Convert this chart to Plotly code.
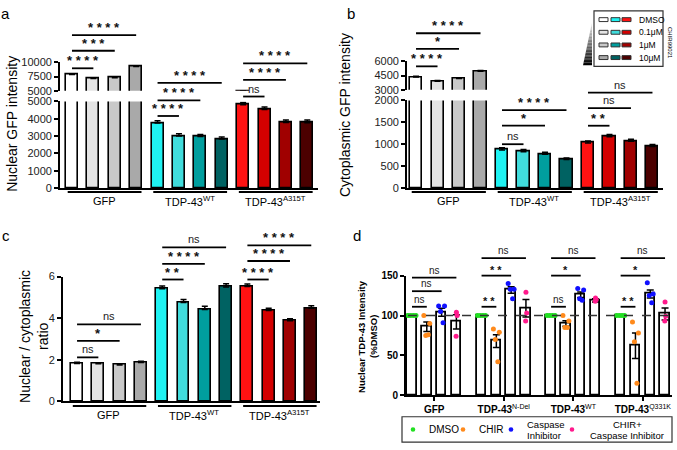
import plotly.graph_objects as go

W, H = 677, 450
FONT = "Liberation Sans, Arial, sans-serif"

# ---------------- data ----------------
groups_abc = ["GFP", "TDP-43<sup>WT</sup>", "TDP-43<sup>A315T</sup>"]
conc_labels = ["DMSO", "0.1μM", "1μM", "10μM"]
colors_gfp = ["#ffffff", "#e4e4e4", "#c9c9c9", "#a9a9a9"]
colors_wt = ["#1ff2f2", "#40dcdc", "#009e9e", "#006262"]
colors_a315t = ["#ff1212", "#d40000", "#a00000", "#4c0000"]

nuc_vals = [7850, 7150, 7300, 9300, 3750, 3000, 2980, 2830, 4800, 4530, 3780, 3770]
nuc_err = [120, 110, 110, 120, 130, 130, 110, 120, 130, 140, 140, 150]
cyto_vals = [4350, 3900, 4200, 4950, 870, 830, 770, 650, 1030, 1170, 1070, 950]
cyto_err = [70, 70, 70, 80, 50, 50, 45, 35, 45, 50, 45, 45]
ratio_vals = [1.82, 1.80, 1.74, 1.86, 5.42, 4.75, 4.42, 5.50, 5.52, 4.37, 3.87, 4.47]
ratio_err = [0.05, 0.05, 0.04, 0.06, 0.13, 0.15, 0.15, 0.15, 0.12, 0.10, 0.10, 0.13]

# significance: (first bar, second bar, label)
sig_a = [(0, 3, "****"), (0, 2, "***"), (0, 1, "****"),
         (4, 7, "****"), (4, 6, "****"), (4, 5, "****"),
         (8, 11, "****"), (8, 10, "****"), (8, 9, "ns")]
sig_b = [(0, 3, "****"), (0, 2, "*"), (0, 1, "****"),
         (4, 7, "****"), (4, 6, "*"), (4, 5, "ns"),
         (8, 11, "ns"), (8, 10, "ns"), (8, 9, "**")]
sig_c = [(0, 3, "ns"), (0, 2, "*"), (0, 1, "ns"),
         (4, 7, "ns"), (4, 6, "****"), (4, 5, "**"),
         (8, 11, "****"), (8, 10, "****"), (8, 9, "****")]

groups_d = ["GFP", "TDP-43<sup>N-Del</sup>", "TDP-43<sup>WT</sup>", "TDP-43<sup>Q331K</sup>"]
treatments_d = ["DMSO", "CHIR", "Caspase|Inhibitor", "CHIR+|Caspase Inhibitor"]
colors_d = ["#22e022", "#ff8a1c", "#1010ff", "#ff1a8c"]
d_means = [[100, 86, 104, 92], [100, 68, 132, 109], [100, 90, 126, 119], [100, 62, 127, 102]]
d_sem = [[0, 6, 5, 9], [0, 8, 4, 11], [0, 3.5, 3.5, 2], [0, 16, 5, 7.5]]
d_points = [
    [[100, 100, 100, 100], [100, 90, 75, 76], [112, 112, 105, 91], [104, 100, 74]],
    [[100, 100, 100, 100], [83, 79, 70, 42], [140, 133, 133, 121], [129, 103, 93]],
    [[100, 100, 100, 100], [100, 93, 85, 85], [134, 132, 121, 119], [122, 120, 118]],
    [[100, 100, 100, 100], [92, 78, 67, 15], [141, 127, 125, 116], [117, 99, 93]],
]
sig_d = ["ns", "ns", "ns",
         "ns", "**", "**",
         "ns", "*", "ns",
         "ns", "*", "**"]

# ---------------- layout geometry (pixels) ----------------
def px(x):
    return x / W

def py(y):
    return 1 - y / H

PAN = {
    "a": dict(xdom=(60, 318), xr=(-0.56, 11.5)),
    "b": dict(xdom=(407, 663), xr=(-0.42, 11.49)),
    "c": dict(xdom=(63, 320), xr=(-0.66, 11.41)),
    "d": dict(xdom=(406, 672), xr=(-0.405, 17.57)),
}

def xpaper(p, v):
    d = PAN[p]
    p0, p1 = d["xdom"]
    r0, r1 = d["xr"]
    return px(p0 + (v - r0) / (r1 - r0) * (p1 - p0))

fig = go.Figure()
shapes = []
annots = []

axis_common = dict(showline=True, linecolor="black", linewidth=1.8, ticks="outside",
                   ticklen=4, tickwidth=1.5, tickcolor="black", showgrid=False,
                   zeroline=False, tickformat="d",
                   tickfont=dict(family=FONT, size=11, color="#222"))

cols12 = colors_gfp + colors_wt + colors_a315t
idx = list(range(12))

def bar12(vals, err, xa, ya):
    fig.add_trace(go.Bar(
        x=idx, y=vals, width=0.56, xaxis=xa, yaxis=ya, showlegend=False,
        marker=dict(color=cols12, line=dict(color="black", width=1.6)),
        error_y=dict(type="data", array=err, arrayminus=[0] * 12, symmetric=False,
                     color="black", thickness=1.5, width=3)))

# panel a (broken axis)
bar12(nuc_vals, nuc_err, "x", "y")
bar12(nuc_vals, nuc_err, "x2", "y2")
# panel b
bar12(cyto_vals, cyto_err, "x3", "y3")
bar12(cyto_vals, cyto_err, "x4", "y4")
# panel c
bar12(ratio_vals, ratio_err, "x5", "y5")

layout_axes = {}
def xax(p, anchor, visible=True, **kw):
    d = PAN[p]
    ax = dict(domain=[px(d["xdom"][0]), px(d["xdom"][1])], range=list(d["xr"]),
              anchor=anchor, showline=visible, linecolor="black", linewidth=1.8,
              showticklabels=False, ticks="", showgrid=False, zeroline=False)
    ax.update(kw)
    return ax

def yax(anchor, top, bottom, rng, tickvals, **kw):
    ax = dict(axis_common)
    ax.update(domain=[py(bottom), py(top)], range=rng, anchor=anchor, tickvals=tickvals)
    ax.update(kw)
    return ax

layout_axes["xaxis"] = xax("a", "y")
layout_axes["yaxis"] = yax("x", 98, 187, [0, 5000], [0, 1000, 2000, 3000, 4000, 5000])
layout_axes["xaxis2"] = xax("a", "y2", visible=False)
layout_axes["yaxis2"] = yax("x2", 58, 87, [5000, 10000], [5000, 7500, 10000])
layout_axes["xaxis3"] = xax("b", "y3")
layout_axes["yaxis3"] = yax("x3", 97, 187, [0, 2000], [0, 500, 1000, 1500, 2000])
layout_axes["xaxis4"] = xax("b", "y4", visible=False)
layout_axes["yaxis4"] = yax("x4", 57, 86, [3000, 6000], [3000, 4500, 6000])
layout_axes["xaxis5"] = xax("c", "y5")
layout_axes["yaxis5"] = yax("x5", 278, 406, [0, 6], [0, 2, 4, 6])

# panel d
d_x = [[g * 4.7 + i for i in range(4)] for g in range(4)]
fig.add_trace(go.Bar(
    x=[v for row in d_x for v in row], y=[v for row in d_means for v in row],
    width=0.64, xaxis="x6", yaxis="y6", showlegend=False,
    marker=dict(color="white", line=dict(color="black", width=1.8)),
    error_y=dict(type="data", array=[v for row in d_sem for v in row],
                 color="black", thickness=1.5, width=3.5)))
JIT = {3: [0.0, 0.05, -0.02], 4: [-0.2, 0.2, -0.07, 0.1]}
for t in range(4):
    xs, ys = [], []
    for g in range(4):
        pts = d_points[g][t]
        offs = [-0.27, -0.09, 0.09, 0.27] if t == 0 else JIT[len(pts)]
        for k, v in enumerate(pts):
            xs.append(d_x[g][t] + offs[k])
            ys.append(v)
    fig.add_trace(go.Scatter(x=xs, y=ys, mode="markers", xaxis="x6", yaxis="y6",
                             showlegend=False,
                             marker=dict(color=colors_d[t], size=5, line=dict(width=0))))

layout_axes["xaxis6"] = xax("d", "y6", ticks="outside", ticklen=4, tickwidth=1.5,
                            tickcolor="black", showticklabels=True,
                            tickvals=[g * 4.7 + 1.5 for g in range(4)],
                            ticktext=[("<b>" + g.replace("<sup>", "</b><sup>")) if "<sup>" in g else "<b>" + g + "</b>" for g in groups_d],
                            tickfont=dict(family=FONT, size=10, color="black"))
layout_axes["yaxis6"] = yax("x6", 277, 400, [0, 150], [0, 50, 100, 150],
                            tickfont=dict(family=FONT, size=10, color="black", weight="bold"))

# dashed 100% line
shapes.append(dict(type="line", xref="paper", yref="y6", x0=px(408), x1=px(677), y0=100, y1=100,
                   line=dict(color="#333", width=1.5, dash="dash"), layer="above"))

# ---------------- group underlines and labels (a, b, c) ----------------
for p, yline, ylab in [("a", 191, 200), ("b", 191, 200), ("c", 411, 420)]:
    for g, name in enumerate(groups_abc):
        shapes.append(dict(type="line", xref="paper", yref="paper",
                           x0=xpaper(p, g * 4 - 0.2), x1=xpaper(p, g * 4 + 3.25),
                           y0=py(yline), y1=py(yline), line=dict(color="black", width=2)))
        annots.append(dict(text=name, x=xpaper(p, g * 4 + 1.5), y=py(ylab), xref="paper", yref="paper",
                           showarrow=False, xanchor="center", yanchor="middle",
                           font=dict(family=FONT, size=11, color="black")))

# ---------------- significance brackets ----------------
def add_sig(p, xa, xb, yline, label, fs_star=13, fs_ns=11):
    x0, x1 = xpaper(p, xa), xpaper(p, xb)
    shapes.append(dict(type="line", xref="paper", yref="paper", x0=x0, x1=x1,
                       y0=py(yline), y1=py(yline), line=dict(color="black", width=1.8)))
    if label == "ns":
        annots.append(dict(text="ns", x=(x0 + x1) / 2, y=py(yline), xref="paper", yref="paper",
                           showarrow=False, xanchor="center", yanchor="bottom", yshift=0,
                           font=dict(family=FONT, size=fs_ns, color="#222")))
    else:
        annots.append(dict(text=" ".join(label), x=(x0 + x1) / 2, y=py(yline), xref="paper",
                           yref="paper", showarrow=False, xanchor="center", yanchor="bottom",
                           yshift=-2, font=dict(family=FONT, size=fs_star, color="#111", weight="bold")))

lev_a = [30, 46, 64, 79, 97, 113, 59, 76, 93]
lev_b = [28, 44, 62, 107, 123, 142, 89, 105, 123]
lev_c = [327, 344, 361, 248, 265, 281, 246, 262, 281]
for (s, e, lab), lv in zip(sig_a, lev_a):
    add_sig("a", s, e, lv, lab)
for (s, e, lab), lv in zip(sig_b, lev_b):
    add_sig("b", s, e, lv, lab)
for (s, e, lab), lv in zip(sig_c, lev_c):
    add_sig("c", s, e, lv, lab)
lev_d = {0: [279, 293, 309], 1: [259, 277, 309], 2: [259, 277, 309], 3: [259, 277, 309]}
for g in range(4):
    for k, tgt in enumerate([3, 2, 1]):
        add_sig("d", d_x[g][0], d_x[g][tgt], lev_d[g][k], sig_d[g * 3 + k], fs_star=11, fs_ns=10)

# ---------------- axis titles and panel letters ----------------
def txt(t, x, y, size, angle=0, bold=False, **kw):
    f = dict(family=FONT, size=size, color="black")
    if bold:
        f["weight"] = "bold"
    a = dict(text=t, x=px(x), y=py(y), xref="paper", yref="paper", showarrow=False,
             xanchor="center", yanchor="middle", textangle=angle, font=f)
    a.update(kw)
    annots.append(a)

txt("Nuclear GFP intensity", 12, 121, 14, -90)
txt("Cytoplasmic GFP intensity", 345, 112, 14, -90)
txt("Nuclear / cytoplasmic", 25, 340, 14, -90)
txt("ratio", 43, 340, 14, -90)
txt("Nuclear TDP-43 Intensity", 362, 340, 9.5, -90, bold=True)
txt("(%DMSO)", 374, 340, 9.5, -90, bold=True)
txt("a", 5, 8, 15)
txt("b", 351, 8, 15)
txt("c", 6, 236, 15)
txt("d", 357, 236, 15)

# ---------------- legend panel b ----------------
shapes.append(dict(type="rect", xref="paper", yref="paper", x0=px(594), x1=px(663),
                   y0=py(62), y1=py(5), line=dict(color="#333", width=1.2)))
row_y = [14, 27, 40, 53]
sw_x = [(599, 608), (611, 620), (622, 631)]
for r, lab in enumerate(conc_labels):
    for c, pal in enumerate([colors_gfp, colors_wt, colors_a315t]):
        shapes.append(dict(type="rect", xref="paper", yref="paper", x0=px(sw_x[c][0]), x1=px(sw_x[c][1]),
                           y0=py(row_y[r] + 2), y1=py(row_y[r] - 2), fillcolor=pal[r],
                           line=dict(color="#333", width=1)))
    txt(lab, 637, row_y[r], 8.5, xanchor="left")
txt("CHIR99021", 670, 38, 6, 90)
N = 30
for k in range(N):
    ya, yb = 17 + 44 * k / N, 17 + 44 * (k + 1) / N
    xa, xb = 592 - 9 * (ya - 17) / 44, 592 - 9 * (yb - 17) / 44
    g = int(235 * (1 - k / (N - 1)))
    col = "rgb(%d,%d,%d)" % (g, g, g)
    path = "M %f %f L %f %f L %f %f L %f %f Z" % (px(xa), py(ya), px(592), py(ya), px(592), py(yb), px(xb), py(yb))
    shapes.append(dict(type="path", xref="paper", yref="paper", path=path, fillcolor=col,
                       line=dict(width=0)))

# ---------------- legend panel d ----------------
shapes.append(dict(type="rect", xref="paper", yref="paper", x0=px(402), x1=px(672),
                   y0=py(448), y1=py(422), line=dict(color="#333", width=1.2)))
dot_x = [413, 463, 511, 572]
for t in range(4):
    shapes.append(dict(type="circle", xref="paper", yref="paper", x0=px(dot_x[t] - 2.3),
                       x1=px(dot_x[t] + 2.3), y0=py(435 + 2.3), y1=py(435 - 2.3),
                       fillcolor=colors_d[t], line=dict(width=0)))
txt(treatments_d[0], 427, 435, 10, xanchor="left")
txt(treatments_d[1], 477, 435, 10, xanchor="left")
l1, l2 = treatments_d[2].split("|")
txt(l1, 525, 430, 9.5, xanchor="left")
txt(l2, 525, 441, 9.5, xanchor="left")
l1, l2 = treatments_d[3].split("|")
txt(l1, 627, 430, 9.5)
txt(l2, 627, 441, 9.5)

fig.update_layout(width=W, height=H, margin=dict(l=0, r=0, t=0, b=0),
                  paper_bgcolor="white", plot_bgcolor="rgba(0,0,0,0)",
                  bargap=0, showlegend=False, shapes=shapes, annotations=annots,
                  font=dict(family=FONT), **layout_axes)
fig.write_html("out.html")
